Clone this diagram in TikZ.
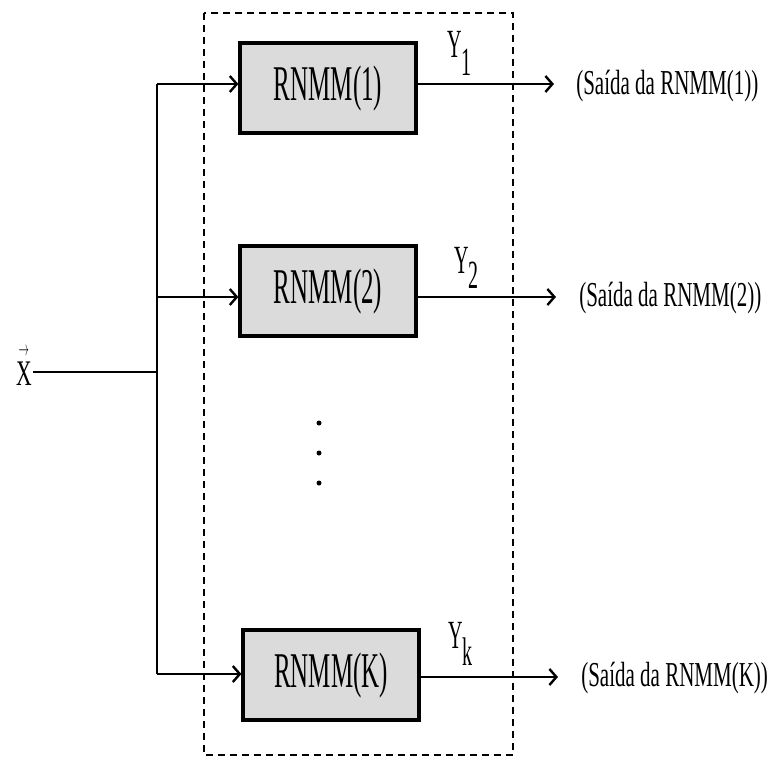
\documentclass[tikz,border=0pt]{standalone}
\usepackage{graphicx}
\usepackage{fontspec}
\setmainfont{Liberation Serif}
\usetikzlibrary{arrows.meta}
\begin{document}
\begin{tikzpicture}[x=1pt,y=-1pt,
  line width=2.6pt,
  tip/.style={-{Straight Barb[length=7pt,width=16pt,line width=2.4pt]}},
  rnmm/.style={draw, line width=3.2pt, fill=gray!28, minimum width=176pt, minimum height=90pt, inner sep=0pt,
    font=\fontsize{50}{52}\selectfont},
  outlbl/.style={anchor=west, inner sep=0pt, font=\fontsize{35}{37}\selectfont},
  ylbl/.style={inner sep=0pt, anchor=base west, font=\fontsize{40}{42}\selectfont},
  frame/.style={dashed, line width=1.8pt, dash pattern=on 7pt off 5pt}
]
\useasboundingbox (0,0) rectangle (771,757);
% dashed frame
\draw[frame] (204,13) rectangle (513,755);
% boxes
\node[rnmm] (b1) at (328,88) {\scalebox{0.5}[1]{RNMM(1)}};
\node[rnmm] (b2) at (328,291) {\scalebox{0.5}[1]{RNMM(2)}};
\node[rnmm] (bk) at (331,675) {\scalebox{0.5}[1]{RNMM(K)}};
% input
\node[inner sep=0pt, anchor=base, font=\fontsize{36}{38}\selectfont] (x) at (24,385)
  {\makebox[0pt][l]{\hspace{2.5pt}\raisebox{30pt}{\fontsize{20}{20}\selectfont\scalebox{0.5}[1]{$\rightarrow$}}}\scalebox{0.6}[1]{X}};
\coordinate (j) at (157,372);
\coordinate (t1) at (157,84);
\coordinate (tk) at (157,674);
\draw (x.east |- j) -- (j);
\draw (t1) -- (tk);
\draw[tip] (t1) -- (b1.west |- t1);
\draw[tip] (157,297) -- (b2.west |- 0,297);
\draw[tip] (tk) -- (bk.west |- tk);
% outputs
\coordinate (o1) at (554,84);
\coordinate (o2) at (556,297);
\coordinate (ok) at (558,677);
\draw[tip] (b1.east |- o1) -- (o1);
\draw[tip] (b2.east |- o2) -- (o2);
\draw[tip] (bk.east |- ok) -- (ok);
\node[outlbl] (l1) at (575,86) {\scalebox{0.6}[1]{(Saída da RNMM(1))}};
\node[outlbl] (l2) at (578,298) {\scalebox{0.6}[1]{(Saída da RNMM(2))}};
\node[outlbl] (lk) at (580,678) {\scalebox{0.6}[1]{(Saída da RNMM(K))}};
% Y labels
\node[ylbl] (y1) at (446,58) {\scalebox{0.5}[1]{Y\raisebox{-18pt}{1}}};
\node[ylbl] (y2) at (453,273) {\scalebox{0.5}[1]{Y\raisebox{-15pt}{2}}};
\node[ylbl] (yk) at (447,648) {\scalebox{0.5}[1]{Y\raisebox{-17pt}{k}}};
% dots
\node[circle, fill=black, inner sep=0pt, minimum size=5pt] (d1) at (319,423) {};
\node[circle, fill=black, inner sep=0pt, minimum size=5pt] (d2) at (319,453) {};
\node[circle, fill=black, inner sep=0pt, minimum size=5pt] (d3) at (319,483) {};
\end{tikzpicture}
\end{document}
